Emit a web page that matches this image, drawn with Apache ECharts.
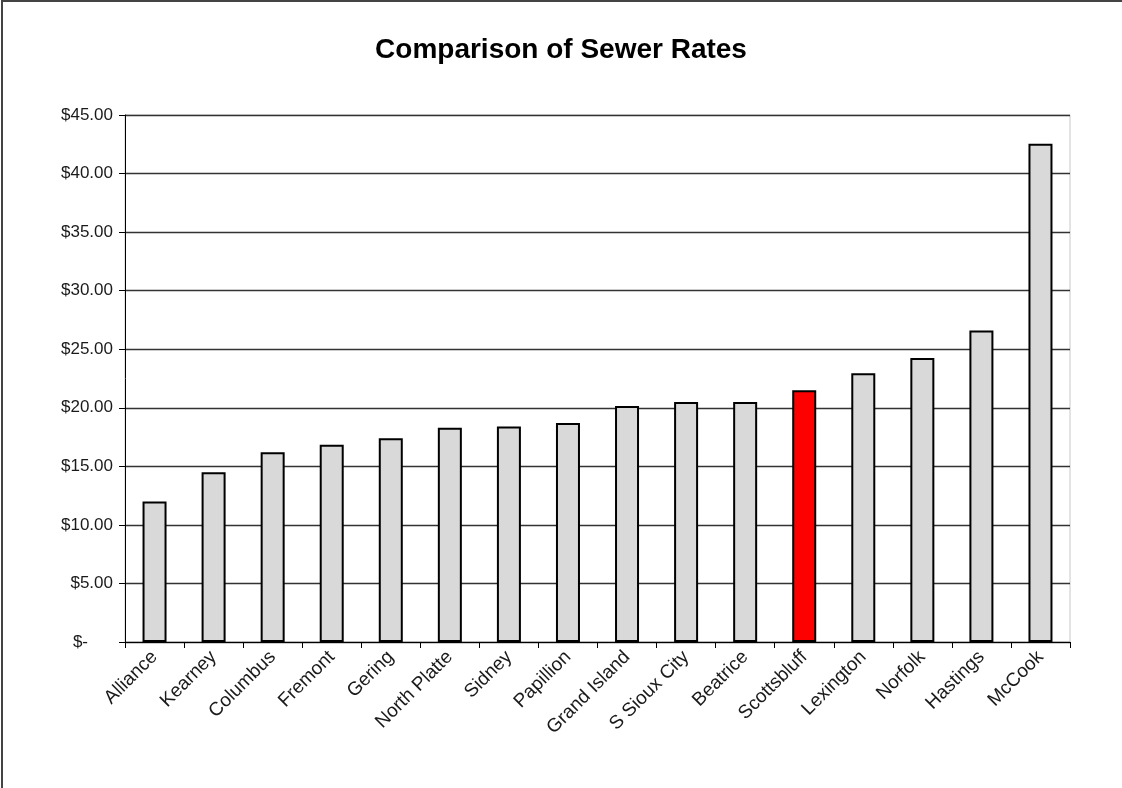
<!DOCTYPE html>
<html>
<head>
<meta charset="utf-8">
<style>
  html, body { margin: 0; padding: 0; background: #fff; }
  #chart { width: 1122px; height: 788px; }
</style>
<script src="https://cdn.jsdelivr.net/npm/echarts@6/dist/echarts.min.js"></script>
</head>
<body>
<div id="chart"></div>
<script>
// Monthly sewer rates by city
const cities = ['Alliance', 'Kearney', 'Columbus', 'Fremont', 'Gering', 'North Platte', 'Sidney',
  'Papillion', 'Grand Island', 'S Sioux City', 'Beatrice', 'Scottsbluff', 'Lexington',
  'Norfolk', 'Hastings', 'McCook'];
const rates = [12.00, 14.50, 16.20, 16.85, 17.40, 18.30, 18.40, 18.70, 20.15, 20.50, 20.50,
  21.50, 22.95, 24.25, 26.60, 42.55];
const highlightCity = 'Scottsbluff';
const yTicks = [0, 5, 10, 15, 20, 25, 30, 35, 40, 45];

const font = '"Liberation Sans", Arial, sans-serif';

const chart = echarts.init(document.getElementById('chart'), null, { renderer: 'canvas' });

chart.setOption({
  animation: false,
  backgroundColor: '#ffffff',
  title: {
    text: 'Comparison of Sewer Rates',
    left: 'center',
    top: 31,
    textStyle: { fontFamily: font, fontSize: 28, fontWeight: 'bold', color: '#000' }
  },
  graphic: [{
    type: 'rect',
    shape: { x: 2, y: 1, width: 1140, height: 820 },
    style: { fill: 'none', stroke: '#444', lineWidth: 2 },
    silent: true
  }],
  grid: {
    left: 125, right: 52, top: 115, bottom: 146,
    show: true, borderColor: '#c8c8c8', borderWidth: 1
  },
  xAxis: {
    type: 'category',
    data: cities,
    boundaryGap: true,
    axisLine: { lineStyle: { color: '#000', width: 1 } },
    axisTick: { show: true, alignWithLabel: false, length: 6, lineStyle: { color: '#000' } },
    axisLabel: {
      interval: 0, rotate: 45, margin: 12,
      fontFamily: font, fontSize: 19, color: '#1a1a1a'
    }
  },
  yAxis: {
    type: 'value',
    min: yTicks[0],
    max: yTicks[yTicks.length - 1],
    interval: 5,
    axisLine: { show: true, lineStyle: { color: '#000', width: 1 } },
    axisTick: { show: true, length: 6, lineStyle: { color: '#000' } },
    splitLine: { lineStyle: { color: '#333', width: 1.3 } },
    axisLabel: {
      margin: 12,
      fontFamily: font, fontSize: 17, color: '#1a1a1a',
      formatter: v => v === 0 ? '{z|$-}' : '$' + v.toFixed(2),
      rich: { z: { fontFamily: font, fontSize: 17, color: '#1a1a1a', padding: [0, 25, 0, 0] } }
    }
  },
  series: [{
    type: 'bar',
    barWidth: 24,
    data: rates.map((v, i) => ({
      value: v,
      itemStyle: { color: cities[i] === highlightCity ? '#ff0000' : '#d9d9d9' }
    })),
    itemStyle: { borderColor: '#000', borderWidth: 2 }
  }]
});
</script>
</body>
</html>
